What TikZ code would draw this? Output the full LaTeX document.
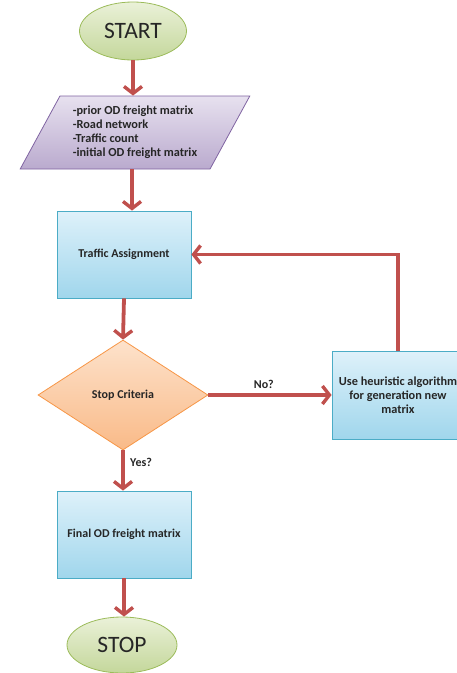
\documentclass[tikz,border=0pt]{standalone}
\usepackage{fontspec}
\setmainfont{Carlito}
\usetikzlibrary{shapes.geometric,arrows.meta}
\definecolor{arrowred}{RGB}{192,80,77}
\definecolor{txt}{RGB}{38,38,38}
\definecolor{grtop}{RGB}{234,241,216}
\definecolor{grbot}{RGB}{196,215,155}
\definecolor{grline}{RGB}{155,187,89}
\definecolor{butop}{RGB}{222,241,250}
\definecolor{bubot}{RGB}{160,214,236}
\definecolor{buline}{RGB}{75,172,198}
\definecolor{ortop}{RGB}{253,226,203}
\definecolor{orbot}{RGB}{249,186,136}
\definecolor{orline}{RGB}{247,150,70}
\definecolor{putop}{RGB}{231,225,239}
\definecolor{pubot}{RGB}{186,170,206}
\definecolor{puline}{RGB}{128,100,162}
\begin{document}
\begin{tikzpicture}[x=1pt,y=-1pt,
  every node/.style={text=txt},
  term/.style={ellipse, draw=grline, line width=0.8pt, top color=grtop, bottom color=grbot,
    inner sep=0pt, font=\fontsize{23.5}{28}\selectfont},
  proc/.style={rectangle, draw=buline, line width=0.8pt, top color=butop, bottom color=bubot,
    inner sep=0pt, font=\bfseries\fontsize{12}{14}\selectfont, align=center},
  dec/.style={diamond, draw=orline, line width=0.8pt, top color=ortop, bottom color=orbot,
    inner sep=0pt, font=\bfseries\fontsize{12}{14}\selectfont},
  io/.style={trapezium, trapezium left angle=58, trapezium right angle=122, trapezium stretches=true,
    draw=puline, line width=0.8pt, top color=putop, bottom color=pubot,
    inner sep=0pt, font=\bfseries\fontsize{12.3}{14}\selectfont, align=left},
  flow/.style={draw=arrowred, line width=3.8pt, -{Straight Barb[length=7pt,width=18pt,line width=3.4pt]}},
  lbl/.style={font=\bfseries\fontsize{12}{14}\selectfont}
]
\useasboundingbox (0,0) rectangle (456,673);

\node[term, minimum width=107pt, minimum height=58pt] (start) at (133,31) {START};
\node[io, minimum width=230pt, minimum height=73pt] (inp) at (135,132.5)
  {-prior OD freight matrix\\-Road network\\-Traffic count\\-initial OD freight matrix};
\node[proc, minimum width=134pt, minimum height=87pt] (ta) at (124,254.5) {Traffic Assignment};
\node[dec, minimum width=170pt, minimum height=110pt] (crit) at (123,395) {Stop Criteria};
\node[proc, minimum width=132pt, minimum height=88pt, font=\bfseries\fontsize{12.3}{14}\selectfont] (heur) at (398,395)
  {Use heuristic algorithm\\for generation new\\matrix};
\node[proc, minimum width=134pt, minimum height=87pt] (fin) at (124,534.5) {Final OD freight matrix};
\node[term, minimum width=110pt, minimum height=56pt] (stop) at (122,645) {STOP};

\draw[flow] (start.south) -- (start.south |- inp.north);
\draw[flow] ([xshift=-3pt]inp.south) -- ([xshift=-3pt]inp.south |- ta.north);
\draw[flow] (ta.south) -- (crit.north);
\draw[flow] (crit.east) -- node[lbl, above=1pt, pos=0.45] (nolbl) {No?} (heur.west);
\draw[flow] (heur.north) -- (heur.north |- ta.east) -- (ta.east);
\draw[flow] (crit.south) -- node[lbl, right=2pt, pos=0.3] (yeslbl) {Yes?} (crit.south |- fin.north);
\draw[flow] (fin.south) -- (fin.south |- stop.north);
\end{tikzpicture}
\end{document}
